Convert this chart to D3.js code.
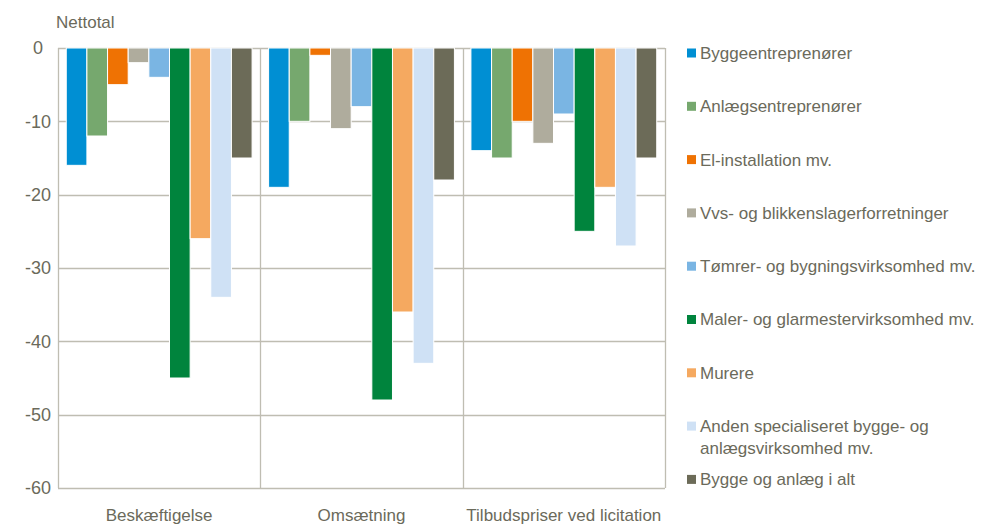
<!DOCTYPE html>
<html lang="da">
<head>
<meta charset="utf-8">
<title>Nettotal</title>
<script src="https://cdn.jsdelivr.net/npm/d3@7/dist/d3.min.js"></script>
<style>
    body { margin: 0; background: #fff; }
    text {
        font-family: "Liberation Sans Narrow", "Arial Narrow", "Liberation Sans", sans-serif;
        font-size: 17px;
        fill: #6b6a5b;
    }
</style>
</head>
<body>
<script>
    var categories = ["Beskæftigelse", "Omsætning", "Tilbudspriser ved licitation"];

    var series = [
        "Byggeentreprenører",
        "Anlægsentreprenører",
        "El-installation mv.",
        "Vvs- og blikkenslagerforretninger",
        "Tømrer- og bygningsvirksomhed mv.",
        "Maler- og glarmestervirksomhed mv.",
        "Murere",
        "Anden specialiseret bygge- og anlægsvirksomhed mv.",
        "Bygge og anlæg i alt"
    ];

    // one array per category, in series order
    var beskaeftigelse = [-16, -12, -5, -2, -4, -45, -26, -34, -15];
    var omsaetning = [-19, -10, -1, -11, -8, -48, -36, -43, -18];
    var tilbudspriser = [-14, -15, -10, -13, -9, -25, -19, -27, -15];
    var values = [beskaeftigelse, omsaetning, tilbudspriser];

    var yTicks = [0, -10, -20, -30, -40, -50, -60];

    var colors = ["#008fd3", "#76a86e", "#ef7203", "#afac9d", "#7ab5e3",
                  "#00843d", "#f5a960", "#cfe1f5", "#6c6b58"];

    var w = 987, h = 524;
    var plotLeft = 58, plotRight = 665, plotTop = 48, plotBottom = 488;

    var svg = d3.select("body").append("svg")
        .attr("width", w)
        .attr("height", h);

    var x0 = d3.scaleBand()
        .domain(categories)
        .range([plotLeft, plotRight]);

    var x1 = d3.scaleBand()
        .domain(series)
        .range([0, x0.bandwidth()])
        .paddingOuter(0.4);

    var y = d3.scaleLinear()
        .domain([0, -60])
        .range([plotTop, plotBottom]);

    var grid = "#bfbdb2";

    // horizontal grid lines
    svg.append("g").selectAll("line")
        .data(yTicks)
        .enter().append("line")
        .attr("x1", plotLeft).attr("x2", plotRight)
        .attr("y1", function (d) { return Math.round(y(d)) + 0.5; })
        .attr("y2", function (d) { return Math.round(y(d)) + 0.5; })
        .attr("stroke", grid)
        .attr("stroke-width", 1.3);

    // vertical separators
    var seps = [plotLeft].concat(categories.map(function (c) { return x0(c) + x0.bandwidth(); }));
    svg.append("g").selectAll("line")
        .data(seps)
        .enter().append("line")
        .attr("x1", function (d) { return Math.round(d) + 0.5; })
        .attr("x2", function (d) { return Math.round(d) + 0.5; })
        .attr("y1", plotTop).attr("y2", plotBottom)
        .attr("stroke", grid)
        .attr("stroke-width", 1.3);

    // y tick labels
    svg.append("g").selectAll("text")
        .data(yTicks)
        .enter().append("text")
        .attr("x", 38)
        .attr("y", function (d) { return y(d); })
        .attr("dy", "0.35em")
        .attr("text-anchor", "middle")
        .style("font-size", "18px")
        .text(function (d) { return d; });

    svg.append("text")
        .attr("x", 56)
        .attr("y", 28)
        .text("Nettotal");

    // bars
    var groups = svg.append("g").selectAll("g")
        .data(categories)
        .enter().append("g")
        .attr("transform", function (d) { return "translate(" + x0(d) + ",0)"; });

    groups.selectAll("rect")
        .data(function (d, i) {
            return values[i].map(function (v, j) { return {s: series[j], v: v, i: j}; });
        })
        .enter().append("rect")
        .attr("x", function (d) { return x1(d.s); })
        .attr("width", x1.bandwidth())
        .attr("y", y(0))
        .attr("height", function (d) { return y(d.v) - y(0); })
        .attr("fill", function (d) { return colors[d.i]; })
        .attr("stroke", "#fff")
        .attr("stroke-width", 1);

    // category labels
    svg.append("g").selectAll("text")
        .data(categories)
        .enter().append("text")
        .attr("x", function (d) { return x0(d) + x0.bandwidth() / 2; })
        .attr("y", 521)
        .attr("text-anchor", "middle")
        .text(function (d) { return d; });

    // legend
    var legendStep = 53.3;
    var legend = svg.append("g").selectAll("g")
        .data(series)
        .enter().append("g")
        .attr("transform", function (d, i) { return "translate(687," + (53 + i * legendStep) + ")"; });

    legend.append("rect")
        .attr("x", 0).attr("y", -4.5)
        .attr("width", 9).attr("height", 9)
        .attr("fill", function (d, i) { return colors[i]; });

    legend.append("text")
        .attr("x", 13)
        .attr("dy", "0.35em")
        .each(function (d) {
            var t = d3.select(this);
            if (d === "Anden specialiseret bygge- og anlægsvirksomhed mv.") {
                t.append("tspan").attr("x", 13).text("Anden specialiseret bygge- og");
                t.append("tspan").attr("x", 13).attr("dy", 22).text("anlægsvirksomhed mv.");
            } else {
                t.text(d);
            }
        });
</script>
</body>
</html>
